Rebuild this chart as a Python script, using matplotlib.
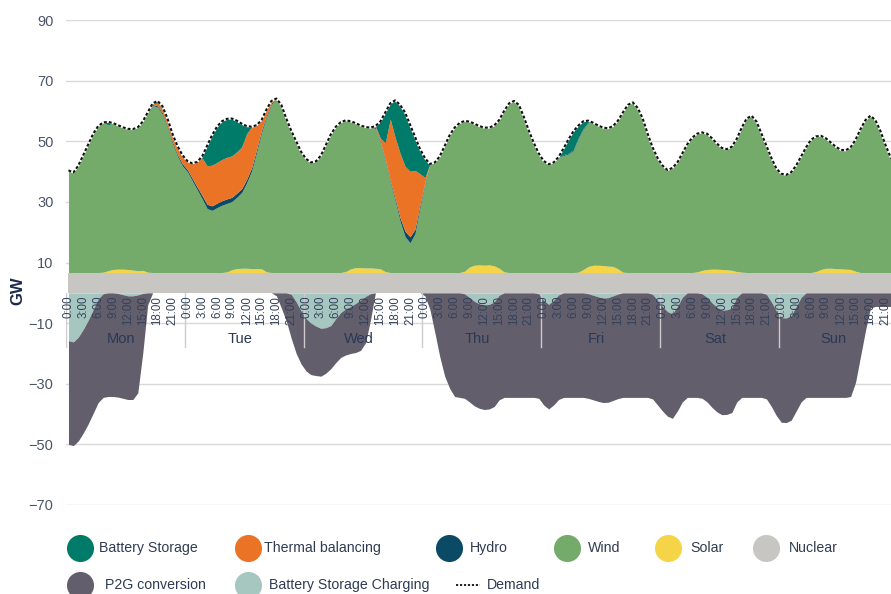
import numpy as np
import matplotlib
matplotlib.use("Agg")
import matplotlib.pyplot as plt

plt.rcParams['font.family'] = ['Liberation Sans', 'DejaVu Sans']

# ---------------- data (hourly, Mon 0:00 .. Sun 23:00) ----------------
DAYS = ["Mon", "Tue", "Wed", "Thu", "Fri", "Sat", "Sun"]
HOUR_LABELS = ["0:00", "3:00", "6:00", "9:00", "12:00", "15:00", "18:00", "21:00"]
Y_TICKS = [90, 70, 50, 30, 10, -10, -30, -50, -70]

DEMAND = [
    40.4, 39.7, 42.0, 45.5, 49.0, 52.5, 55.0, 56.2, 56.4, 56.0, 55.3, 54.6, 54.1, 54.0, 54.6, 56.5, 59.5, 62.5, 63.3, 61.5, 57.5, 52.5, 48.5, 45.5,
    43.5, 42.7, 43.2, 45.0, 48.5, 52.0, 54.8, 56.6, 57.4, 57.5, 56.8, 55.8, 55.0, 54.8, 55.3, 57.0, 60.5, 63.3, 64.1, 62.0, 57.5, 53.5, 50.0, 46.5,
    44.2, 43.0, 43.4, 45.3, 48.8, 52.3, 54.8, 56.3, 56.9, 56.6, 56.0, 55.2, 54.7, 54.5, 55.0, 56.5, 59.5, 62.5, 63.5, 62.0, 59.5, 55.5, 51.5, 47.5,
    44.5, 42.5, 43.0, 45.0, 48.5, 52.0, 54.5, 56.0, 56.7, 56.5, 55.8, 55.0, 54.5, 54.5, 55.2, 57.0, 60.0, 62.5, 63.3, 62.0, 58.0, 53.5, 49.5, 46.0,
    43.5, 42.4, 43.0, 44.8, 47.6, 50.6, 53.3, 55.2, 56.6, 56.8, 56.1, 55.2, 54.5, 54.3, 55.0, 56.8, 59.5, 62.0, 62.8, 61.0, 57.5, 52.5, 48.0, 44.5,
    42.0, 40.5, 41.2, 43.0, 46.0, 49.0, 51.2, 52.5, 52.9, 52.5, 51.0, 49.2, 47.8, 47.4, 48.2, 50.8, 54.5, 57.5, 58.4, 56.5, 52.5, 48.5, 44.5, 41.0,
    39.3, 38.9, 39.8, 42.0, 45.0, 48.0, 50.5, 51.6, 51.8, 51.0, 49.6, 48.2, 47.2, 47.0, 48.0, 50.5, 54.0, 57.0, 58.4, 57.0, 53.5, 49.0, 45.0, 42.5,
]

NUCLEAR_GW = 6.7

SOLAR = (
    [0] * 7 + [0.1, 0.6, 1.0, 1.1, 1.1, 1.0, 0.8, 0.6, 0.7, 0.1] + [0] * 7 +
    [0] * 8 + [0.2, 0.9, 1.3, 1.4, 1.4, 1.3, 1.3, 1.2, 0.2] + [0] * 7 +
    [0] * 8 + [0.3, 1.2, 1.6, 1.6, 1.5, 1.5, 1.4, 1.2, 0.3] + [0] * 7 +
    [0] * 8 + [0.4, 1.8, 2.4, 2.5, 2.4, 2.5, 2.2, 1.4, 0.2] + [0] * 7 +
    [0] * 7 + [0.1, 1.0, 2.0, 2.4, 2.4, 2.3, 2.1, 2.0, 1.2, 0.1] + [0] * 7 +
    [0] * 7 + [0.2, 0.7, 1.0, 1.1, 1.1, 1.0, 0.9, 0.7, 0.3, 0.1] + [0] * 7 +
    [0] * 7 + [0.3, 1.0, 1.4, 1.4, 1.3, 1.2, 1.1, 1.0, 0.4, 0.0] + [0] * 7
)

HYDRO = (
    [0] * 17 + [0.3, 0.4, 0.5, 0.5, 0.6, 0.6, 0.7] +
    [0.7, 0.8, 0.9, 1.1, 1.4, 1.5, 1.5, 1.5, 1.5, 1.4, 1.4, 1.3, 1.2, 1.1, 1.0, 0.8, 0.6, 0.4] + [0] * 6 +
    [0] * 14 + [0.3, 0.4, 0.5, 0.6, 0.8, 1.2, 1.8, 2.0, 1.5, 1.0] +
    [0.5] + [0] * 23 +
    [0] * 4 + [0.3, 0.3, 0.3, 0.3, 0.3, 0.2] + [0] * 14 +
    [0] * 24 +
    [0] * 24
)

THERMAL = (
    [0] * 17 + [0.2, 0.9, 1.5, 1.9, 2.2, 2.5, 2.9] +
    [2.8, 4.9, 8.3, 12.4, 12.7, 13.4, 13.4, 13.6, 13.7, 13.7, 13.6, 13.8, 15.0, 13.5, 8.0, 3.4, 1.9, 0.6] + [0] * 6 +
    [0] * 14 + [0.5, 1.1, 5.5, 20.2, 20.1, 21.3, 21.4, 21.6, 19.4, 10.3] +
    [1.5] + [0] * 23 +
    [0] * 24 +
    [0] * 24 +
    [0] * 24
)

BATTERY = (
    [0] * 8 + [1.0] + [0] * 8 + [0.2, 0.7, 0.7, 0.6, 0.4, 0.3, 0.0] +
    [0] * 3 + [0.5, 6.6, 9.9, 11.8, 12.6, 12.7, 12.3, 10.3, 7.6, 2.5] + [0] * 11 +
    [0] * 14 + [0.0, 5.5, 10.0, 5.2, 12.3, 16.0, 17.8, 15.4, 11.1, 8.2] +
    [6.5] + [0] * 23 +
    [0] * 4 + [2.0, 4.5, 6.0, 4.0, 2.3, 0.5] + [0] * 14 +
    [0] * 24 +
    [0] * 24
)

CHARGING = (
    [-15.8, -16.2, -14.6, -12.0, -9.0, -5.5, -2.0, -0.3, 0, 0, -0.2, -0.6, -1.0, -1.0, -0.7, -0.2] + [0] * 8 +
    [0] * 21 + [-0.5, -3.0, -6.0] +
    [-8.5, -10.0, -11.0, -11.7, -11.5, -10.8, -8.5, -6.5, -5.3, -4.5, -3.5, -2.4, -1.2, -0.3] + [0] * 10 +
    [0] * 8 + [-0.3, -1.5, -2.8, -3.6, -4.0, -3.8, -3.0, -0.8] + [0] * 7 + [-0.3] +
    [-2.5, -3.8, -2.5, -0.7] + [0] * 5 + [-0.3, -0.8, -1.3, -1.7, -1.6, -1.0, -0.4] + [0] * 6 + [-0.5, -2.5] +
    [-4.5, -6.2, -6.9, -4.5, -1.5] + [0] * 3 + [-0.3, -1.5, -3.3, -4.8, -5.7, -5.6, -5.0, -1.5] + [0] * 5 + [-0.5, -3.0, -6.0] +
    [-8.2, -8.3, -7.5, -4.5, -1.5] + [0] * 19
)

P2G = (
    [-34.2] * 14 + [-32.3, -19.8, -4.0] + [0] * 7 +
    [0] * 18 + [-1.0, -5.0, -9.3, -14.5, -17.0, -17.5] +
    [-17.3, -17.0, -16.3, -15.8, -15.0, -14.2, -14.5, -14.8, -15.2, -15.5, -16.2, -16.6, -15.3, -8.7] + [0] * 10 +
    [-1.0, -5.4, -13.0, -21.0, -27.5, -31.5, -34.2] + [-34.5] * 17 +
    [-34.5] * 24 +
    [-34.5] * 24 +
    [-34.5] * 14 + [-34.2, -29.5, -21.0, -12.5, -5.0, -4.5, -4.5, -4.5, -4.5, -4.5]
)

COLORS = {
    "Battery Storage": "#007b69",
    "Thermal balancing": "#ea7325",
    "Hydro": "#0b4a64",
    "Wind": "#74ab6b",
    "Solar": "#f5d547",
    "Nuclear": "#c8c6c2",
    "P2G conversion": "#625e6b",
    "Battery Storage Charging": "#a6c7bf",
}

# ---------------- build stacks ----------------
hours = np.arange(len(DEMAND))
demand = np.array(DEMAND)
nuclear = np.full(len(DEMAND), NUCLEAR_GW)
solar = np.array(SOLAR, dtype=float)
hydro = np.array(HYDRO, dtype=float)
thermal = np.array(THERMAL, dtype=float)
battery = np.array(BATTERY, dtype=float)
wind = demand - nuclear - solar - hydro - thermal - battery
charging = np.array(CHARGING, dtype=float)
p2g = np.array(P2G, dtype=float)

fig = plt.figure(figsize=(8.91, 5.94), dpi=100)
W, H = 891.0, 594.0
x0_px, dx_px = 68.5, 4.95
ax = fig.add_axes([66 / W, 1 - 505 / H, (W - 66) / W, 485 / H])
ax.set_xlim(-0.5, (W - x0_px) / dx_px)
ax.set_ylim(-70, 90)

# positive stack
base = np.zeros_like(demand)
for name, vals in [("Nuclear", nuclear), ("Solar", solar), ("Wind", wind),
                   ("Hydro", hydro), ("Thermal balancing", thermal), ("Battery Storage", battery)]:
    top = base + vals
    ax.fill_between(hours, base, top, color=COLORS[name], lw=0, zorder=2)
    base = top

# negative stack
nbase = np.zeros_like(demand)
for name, vals in [("Battery Storage Charging", charging), ("P2G conversion", p2g)]:
    bot = nbase + vals
    ax.fill_between(hours, nbase, bot, color=COLORS[name], lw=0, zorder=2)
    nbase = bot

# demand line
ax.plot(hours, demand, color="white", lw=1.5, zorder=3)
ax.plot(hours, demand, color="#111111", lw=1.5, ls=(0, (1.4, 1.0)), zorder=3)

# axes styling
for s in ax.spines.values():
    s.set_visible(False)
ax.set_yticks(Y_TICKS)
ax.set_xticks([])
ax.yaxis.grid(True, color="#d9d9d9", lw=1.0)
ax.set_axisbelow(True)
ax.tick_params(axis="y", length=0, pad=9, labelsize=10.5, labelcolor="#4b5566")

# category labels
label_color = "#33415c"
xmax = ax.get_xlim()[1]
for d, day in enumerate(DAYS):
    for i, lab in enumerate(HOUR_LABELS):
        h = 24 * d + 3 * i
        if h <= xmax + 1:
            ax.text(h, -1.0, lab, rotation=90, ha="center", va="top", fontsize=8.3,
                    color=label_color, zorder=6, clip_on=False)
    ax.text(24 * d + 10.6, -15.3, day, ha="center", va="center", fontsize=10.5,
            color="#2a3857", zorder=6)
for d in range(8):
    xs = 24 * d - 0.5
    if xs <= xmax:
        ax.plot([xs, xs], [0, -18], color="#cccccc", lw=1.0, zorder=5)

fig.text(18 / W, 1 - 291 / H, "GW", rotation=90, fontsize=12, fontweight="bold",
         color="#1c2b4a", ha="center", va="center")

# legend (manual)
lax = fig.add_axes([0, 0, 1, 1], zorder=10)
lax.set_xlim(0, W)
lax.set_ylim(H, 0)
lax.axis("off")
lax.patch.set_alpha(0)
legend_items = [
    ("Battery Storage", 80, 99, 548),
    ("Thermal balancing", 248, 264, 548),
    ("Hydro", 449, 470, 548),
    ("Wind", 567, 588, 548),
    ("Solar", 668, 690, 548),
    ("Nuclear", 766, 789, 548),
    ("P2G conversion", 80, 105, 585),
    ("Battery Storage Charging", 248, 269, 585),
]
for name, cx, tx, cy in legend_items:
    lax.scatter([cx], [cy], s=380, color=COLORS[name], lw=0)
    lax.text(tx, cy, name, ha="left", va="center", fontsize=10.2, color="#2f3b52")
lax.plot([456, 480], [585, 585], color="#111111", lw=1.3, ls=(0, (1.2, 1.0)))
lax.text(487, 585, "Demand", ha="left", va="center", fontsize=10.2, color="#2f3b52")

fig.savefig("out.png", dpi=100)
